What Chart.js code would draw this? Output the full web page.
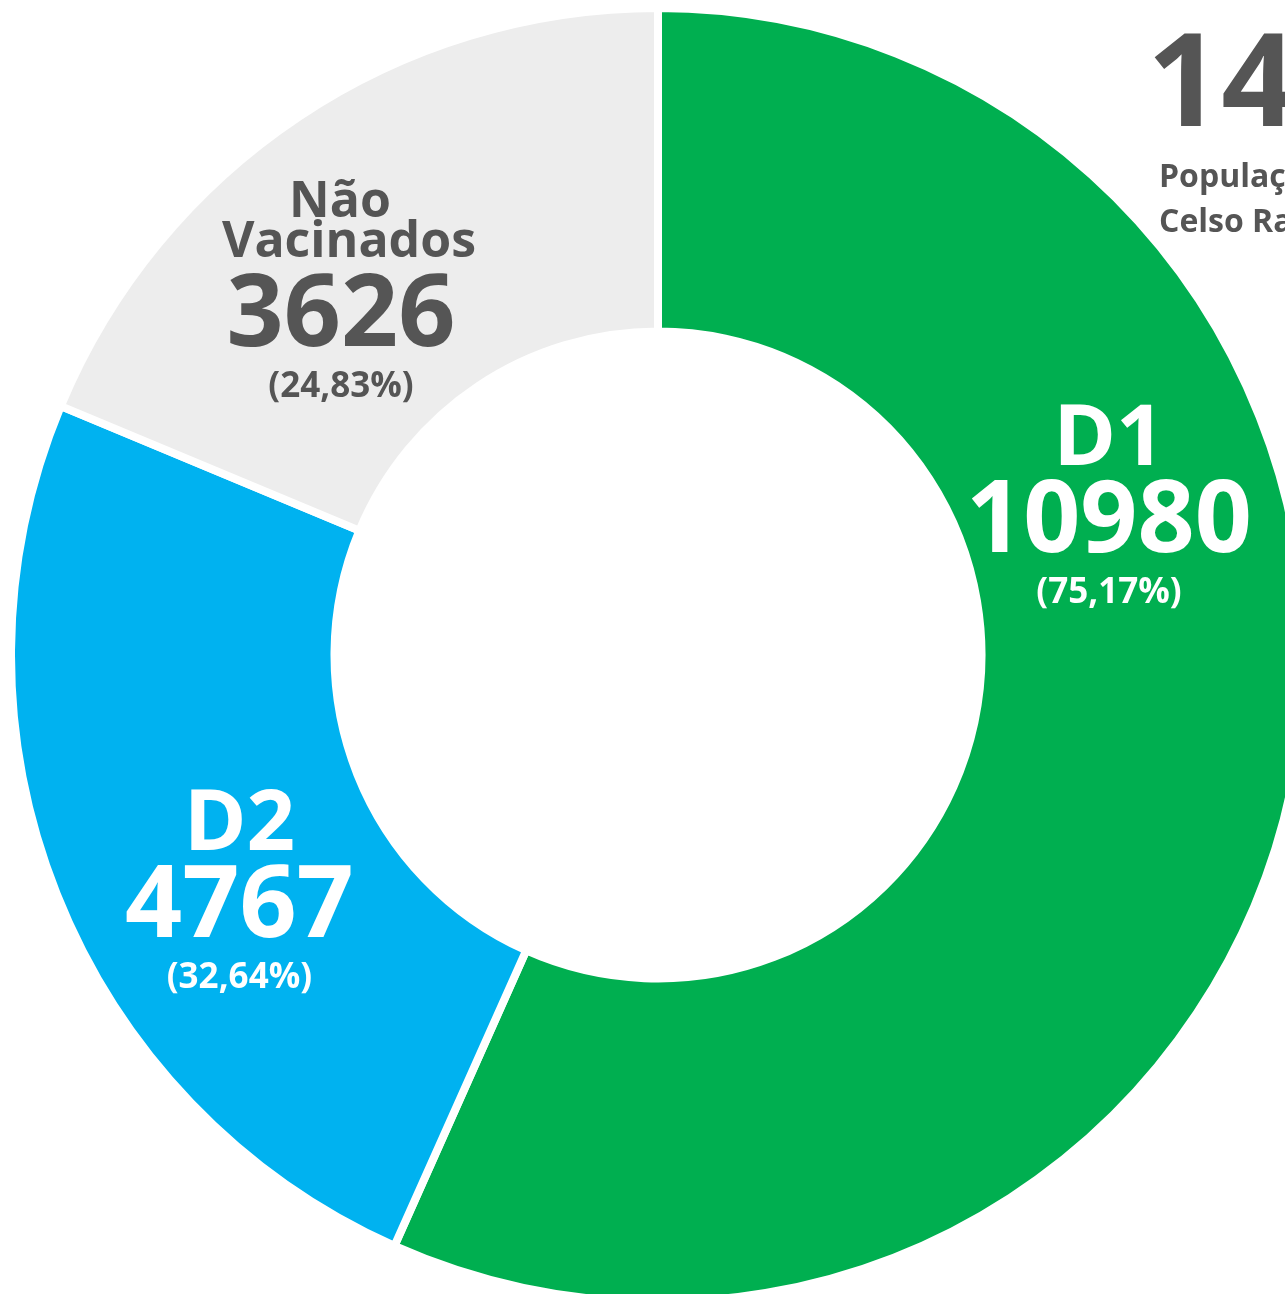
<!DOCTYPE html>
<html>
<head>
<meta charset="utf-8">
<script src="https://cdn.jsdelivr.net/npm/chart.js@4.4.0/dist/chart.umd.min.js"></script>
<style>
  html, body { margin: 0; padding: 0; background: #fff; overflow: hidden; }
  #wrap { position: relative; width: 1285px; height: 1294px; overflow: hidden; }
  #vacChart { position: absolute; left: 7px; top: 4px; }
</style>
</head>
<body>
<div id="wrap">
  <canvas id="vacChart" width="1302" height="1302"></canvas>
</div>
<script>
// dados
const categorias = ['D1', 'D2', 'Não Vacinados'];
const doses = [10980, 4767, 3626];
const populacao = 14606;
const cores = ['#00AF50', '#00B2F0', '#EDEDED'];
const corTexto = ['#FFFFFF', '#FFFFFF', '#555555'];
// posição do bloco de texto (fração do raio externo, relativo ao centro)
const ancoras = [[0.697, -0.159], [-0.647, 0.436], [-0.490, -0.478]];

function pct(v) {
    return '(' + (v / populacao * 100).toFixed(2).replace('.', ',') + '%)';
}

const rotulos = {
    id: 'rotulos',
    afterDatasetsDraw(chart) {
        const ctx = chart.ctx;
        const meta = chart.getDatasetMeta(0);
        const arc0 = meta.data[0];
        const cx = arc0.x, cy = arc0.y, R = arc0.outerRadius;
        ctx.save();
        ctx.textAlign = 'center';
        ctx.textBaseline = 'alphabetic';
        meta.data.forEach(function(arc, i) {
            const x = cx + ancoras[i][0] * R;
            const y = cy + ancoras[i][1] * R;
            ctx.fillStyle = corTexto[i];
            if (i === 2) {
                ctx.font = 'bold 50px "Open Sans"';
                ctx.fillText('Não', x - 1, y - 129);
                ctx.fillText('Vacinados', x + 8, y - 89);
            } else {
                ctx.font = 'bold 85px "Open Sans"';
                ctx.fillText(categorias[i], x, y - 87);
            }
            ctx.font = 'bold 100px "Open Sans"';
            ctx.fillText(String(doses[i]), x, y);
            ctx.font = 'bold 35px "Open Sans"';
            ctx.fillText(pct(doses[i]), x, y + 51);
        });
        // total da população (lado direito)
        ctx.textAlign = 'left';
        ctx.fillStyle = '#555555';
        ctx.font = 'bold 130px "Open Sans"';
        ctx.fillText(String(populacao), 1140, 122);
        ctx.font = 'bold 32px "Open Sans"';
        ctx.fillText('População de', 1152, 183);
        ctx.fillText('Celso Ramos', 1152, 228);
        ctx.restore();
    }
};

function initializeChart() {
    const ctx = document.getElementById('vacChart').getContext('2d');
    new Chart(ctx, {
        type: 'doughnut',
        data: {
            labels: categorias,
            datasets: [{
                data: doses,
                backgroundColor: cores,
                borderColor: '#FFFFFF',
                borderWidth: 8,
                hoverOffset: 0
            }]
        },
        options: {
            responsive: false,
            animation: false,
            cutout: '50%',
            layout: { padding: 0 },
            plugins: {
                legend: { display: false },
                tooltip: { enabled: false }
            }
        },
        plugins: [rotulos]
    });
}

if (document.readyState === 'loading') {
    document.addEventListener('DOMContentLoaded', initializeChart);
} else {
    initializeChart();
}
</script>
</body>
</html>
